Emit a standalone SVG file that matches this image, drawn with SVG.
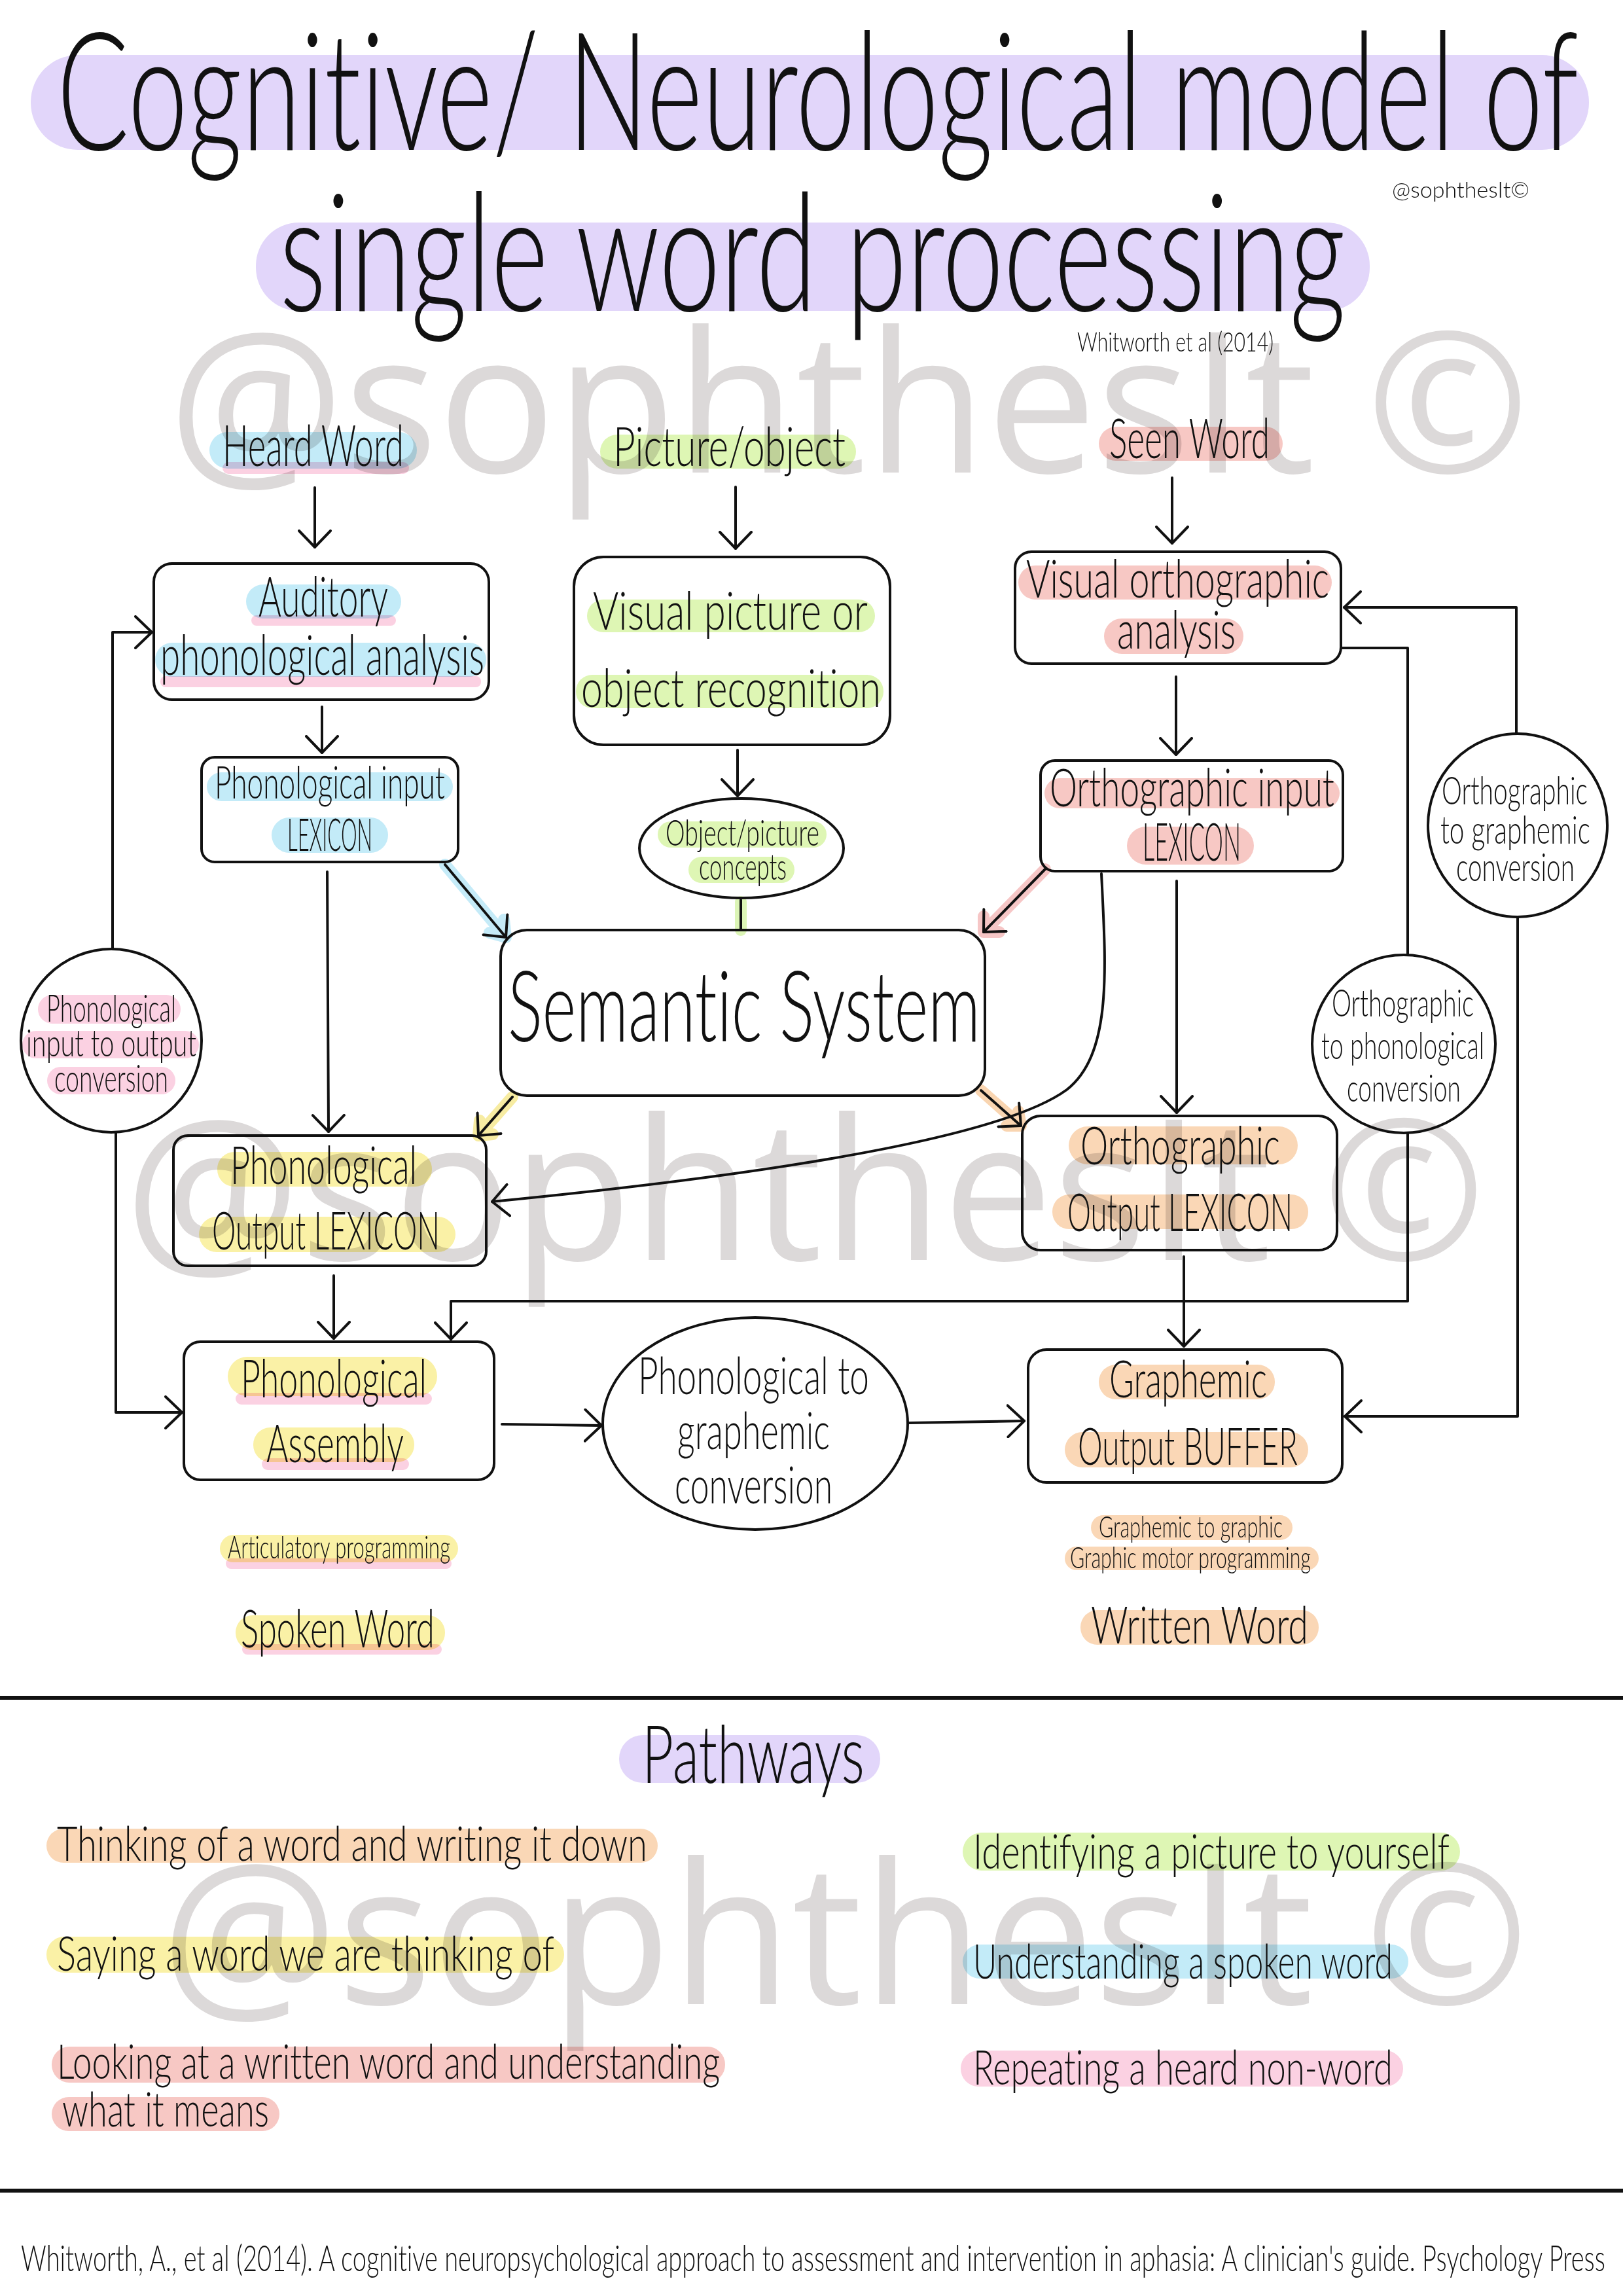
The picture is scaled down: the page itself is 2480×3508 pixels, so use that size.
<svg xmlns="http://www.w3.org/2000/svg" width="2480" height="3508" viewBox="0 0 2480 3508">
<defs>
<style>
.t{font-family:"Lato","Liberation Sans Narrow","DejaVu Sans Condensed",sans-serif;font-weight:300;fill:#111;font-variant-ligatures:none;font-feature-settings:"liga" 0,"clig" 0}
.wm{font-family:"Open Sans","Noto Sans","Liberation Sans",sans-serif;fill:#dcd9d9}
.box{fill:none;stroke:#111;stroke-width:4}
.ln{fill:none;stroke:#111;stroke-width:4;stroke-linecap:round;stroke-linejoin:round}
.glow{fill:none;stroke-width:18;stroke-linecap:round;stroke-linejoin:round;opacity:0.9}
.lav,.blu,.pnk,.grn,.yel,.pch,.sal{mix-blend-mode:multiply}
.lav{fill:#e2d6fa}.blu{fill:#c3ebf8}.pnk{fill:#fbd1e2}.grn{fill:#def6b4}.yel{fill:#faf1a6}.pch{fill:#fad7b6}.sal{fill:#f7c8c4}
</style>
<marker id="ah" viewBox="0 0 30 52" refX="27" refY="26" markerWidth="30" markerHeight="52" markerUnits="userSpaceOnUse" orient="auto">
<path d="M2,2 L27,26 L2,50" fill="none" stroke="#111" stroke-width="4" stroke-linecap="round" stroke-linejoin="round"/>
</marker>
</defs>
<rect x="0" y="0" width="2480" height="3508" fill="#ffffff"/>

<g id="watermarks">
<text class="wm" x="257" y="722" font-size="300" textLength="2080" lengthAdjust="spacingAndGlyphs">@sophthesIt ©</text>
<text class="wm" x="190" y="1925" font-size="300" textLength="2080" lengthAdjust="spacingAndGlyphs">@sophthesIt ©</text>
<text class="wm" x="246" y="3062" font-size="300" textLength="2090" lengthAdjust="spacingAndGlyphs">@sophthesIt ©</text>
</g>

<g id="title">
<rect class="lav" x="47" y="84" width="2381" height="145" rx="72"/>
<rect class="lav" x="391" y="340" width="1702" height="135" rx="66"/>
<text class="t" x="87" y="229" font-size="250" textLength="2325" lengthAdjust="spacingAndGlyphs">Cognitive/ Neurological model of</text>
<text class="t" x="427" y="475" font-size="250" textLength="1629" lengthAdjust="spacingAndGlyphs">single word processing</text>
<text class="t" x="2127" y="302" font-size="34" textLength="210" lengthAdjust="spacingAndGlyphs">@sophthesIt©</text>
<text class="t" x="1646" y="537" font-size="42" textLength="300" lengthAdjust="spacingAndGlyphs">Whitworth et al (2014)</text>
</g>

<g id="connectors">
<path class="glow" stroke="#bfe9f7" d="M680,1321 L773,1432 M748,1425 L773,1432 L770,1405"/>
<path class="glow" stroke="#d8f4ae" d="M1132,1378 L1132,1421"/>
<path class="glow" stroke="#f5c0c0" d="M1597,1328 L1503,1424 M1503,1400 L1503,1424 L1527,1424"/>
<path class="glow" stroke="#f6ea98" d="M783,1676 L731,1735 M733,1712 L731,1735 L753,1733"/>
<path class="glow" stroke="#f8d0a8" d="M1499,1666 L1560,1720 M1538,1720 L1560,1720 L1556,1698"/>

<path class="ln" marker-end="url(#ah)" d="M481,745 L481,836"/>
<path class="ln" marker-end="url(#ah)" d="M492,1080 L492,1150"/>
<path class="ln" marker-end="url(#ah)" d="M500,1332 L502,1729"/>
<path class="ln" marker-end="url(#ah)" d="M680,1321 L773,1432"/>
<path class="ln" marker-end="url(#ah)" d="M1124,744 L1124,838"/>
<path class="ln" marker-end="url(#ah)" d="M1127,1146 L1127,1216"/>
<path class="ln" d="M1132,1375 L1132,1421"/>
<path class="ln" marker-end="url(#ah)" d="M1791,730 L1791,830"/>
<path class="ln" marker-end="url(#ah)" d="M1797,1034 L1797,1153"/>
<path class="ln" marker-end="url(#ah)" d="M1597,1328 L1503,1424"/>
<path class="ln" marker-end="url(#ah)" d="M1798,1346 L1798,1700"/>
<path class="ln" marker-end="url(#ah)" d="M1683,1335 C1690,1480 1700,1610 1630,1665 C1520,1745 1120,1800 752,1836"/>
<path class="ln" marker-end="url(#ah)" d="M783,1676 L731,1735"/>
<path class="ln" marker-end="url(#ah)" d="M1499,1666 L1560,1720"/>
<path class="ln" marker-end="url(#ah)" d="M172,1450 L172,966 L232,966"/>
<path class="ln" marker-end="url(#ah)" d="M177,1730 L177,2158 L278,2158"/>
<path class="ln" marker-end="url(#ah)" d="M510,1949 L510,2045"/>
<path class="ln" d="M2049,990 L2151,990 L2151,1459"/>
<path class="ln" marker-end="url(#ah)" d="M2151,1731 L2151,1988 L689,1988 L689,2046"/>
<path class="ln" marker-end="url(#ah)" d="M2317,1121 L2317,928 L2054,928"/>
<path class="ln" marker-end="url(#ah)" d="M2319,1401 L2319,2164 L2055,2164"/>
<path class="ln" marker-end="url(#ah)" d="M767,2176 L919,2178"/>
<path class="ln" marker-end="url(#ah)" d="M1388,2174 L1565,2171"/>
<path class="ln" marker-end="url(#ah)" d="M1809,1920 L1809,2057"/>
</g>

<g id="heard-word">
<rect class="pnk" x="340" y="706" width="285" height="18" rx="9"/>
<rect class="blu" x="320" y="660" width="317" height="56" rx="28"/>
<text class="t" x="340" y="712" font-size="86" textLength="277" lengthAdjust="spacingAndGlyphs">Heard Word</text>
</g>

<g id="picture-object">
<rect class="grn" x="917" y="664" width="391" height="52" rx="26"/>
<text class="t" x="937" y="712" font-size="82" textLength="355" lengthAdjust="spacingAndGlyphs">Picture/object</text>
</g>

<g id="seen-word">
<rect class="sal" x="1679" y="652" width="281" height="52" rx="26"/>
<text class="t" x="1695" y="700" font-size="84" textLength="245" lengthAdjust="spacingAndGlyphs">Seen Word</text>
</g>

<g id="auditory-phonological-analysis">
<rect class="box" x="235" y="861" width="512" height="208" rx="28"/>
<rect class="pnk" x="384" y="940" width="221" height="16" rx="8"/>
<rect class="blu" x="376" y="893" width="237" height="52" rx="26"/>
<rect class="pnk" x="245" y="1033" width="490" height="17" rx="8"/>
<rect class="blu" x="237" y="982" width="506" height="52" rx="26"/>
<text class="t" x="395" y="942" font-size="85" textLength="198" lengthAdjust="spacingAndGlyphs">Auditory</text>
<text class="t" x="245" y="1031" font-size="85" textLength="495" lengthAdjust="spacingAndGlyphs">phonological analysis</text>
</g>

<g id="phonological-input-lexicon">
<rect class="box" x="308" y="1157" width="392" height="160" rx="20"/>
<rect class="blu" x="316" y="1180" width="376" height="44" rx="22"/>
<rect class="blu" x="415" y="1249" width="178" height="54" rx="27"/>
<text class="t" x="328" y="1220" font-size="68" textLength="352" lengthAdjust="spacingAndGlyphs">Phonological input</text>
<text class="t" x="439" y="1300" font-size="68" textLength="130" lengthAdjust="spacingAndGlyphs">LEXICON</text>
</g>

<g id="visual-picture-object-recognition">
<rect class="box" x="877" y="851" width="483" height="287" rx="45"/>
<rect class="grn" x="897" y="916" width="440" height="50" rx="25"/>
<rect class="grn" x="880" y="1031" width="470" height="51" rx="25"/>
<text class="t" x="906" y="962" font-size="80" textLength="420" lengthAdjust="spacingAndGlyphs">Visual picture or</text>
<text class="t" x="888" y="1080" font-size="80" textLength="458" lengthAdjust="spacingAndGlyphs">object recognition</text>
</g>

<g id="object-picture-concepts">
<ellipse class="box" cx="1133" cy="1296" rx="156" ry="76"/>
<rect class="grn" x="1005" y="1255" width="258" height="40" rx="20"/>
<rect class="grn" x="1052" y="1309" width="162" height="40" rx="20"/>
<text class="t" x="1017" y="1292" font-size="56" textLength="235" lengthAdjust="spacingAndGlyphs">Object/picture</text>
<text class="t" x="1068" y="1344" font-size="56" textLength="134" lengthAdjust="spacingAndGlyphs">concepts</text>
</g>

<g id="visual-orthographic-analysis">
<rect class="box" x="1551" y="843" width="498" height="171" rx="25"/>
<rect class="sal" x="1556" y="864" width="479" height="52" rx="26"/>
<rect class="sal" x="1687" y="945" width="213" height="54" rx="27"/>
<text class="t" x="1568" y="913" font-size="80" textLength="463" lengthAdjust="spacingAndGlyphs">Visual orthographic</text>
<text class="t" x="1707" y="991" font-size="80" textLength="181" lengthAdjust="spacingAndGlyphs">analysis</text>
</g>

<g id="orthographic-input-lexicon">
<rect class="box" x="1590" y="1162" width="462" height="169" rx="22"/>
<rect class="sal" x="1596" y="1189" width="451" height="46" rx="23"/>
<rect class="sal" x="1722" y="1263" width="194" height="58" rx="29"/>
<text class="t" x="1604" y="1232" font-size="80" textLength="435" lengthAdjust="spacingAndGlyphs">Orthographic input</text>
<text class="t" x="1746" y="1315" font-size="80" textLength="150" lengthAdjust="spacingAndGlyphs">LEXICON</text>
</g>

<g id="semantic-system">
<rect class="box" x="765" y="1421" width="740" height="253" rx="40" fill="#fff"/>
<text class="t" x="776" y="1591" font-size="150" textLength="722" lengthAdjust="spacingAndGlyphs">Semantic System</text>
</g>

<g id="phonological-input-to-output-conversion">
<ellipse class="box" cx="170" cy="1590" rx="138" ry="140"/>
<rect class="pnk" x="58" y="1520" width="218" height="44" rx="22"/>
<rect class="pnk" x="34" y="1575" width="270" height="42" rx="21"/>
<rect class="pnk" x="72" y="1630" width="196" height="42" rx="21"/>
<text class="t" x="71" y="1561" font-size="58" textLength="198" lengthAdjust="spacingAndGlyphs">Phonological</text>
<text class="t" x="40" y="1614" font-size="58" textLength="260" lengthAdjust="spacingAndGlyphs">input to output</text>
<text class="t" x="83" y="1668" font-size="58" textLength="174" lengthAdjust="spacingAndGlyphs">conversion</text>
</g>

<g id="orthographic-to-phonological-conversion">
<ellipse class="box" cx="2145" cy="1595" rx="140" ry="136"/>
<text class="t" x="2035" y="1553" font-size="58" textLength="217" lengthAdjust="spacingAndGlyphs">Orthographic</text>
<text class="t" x="2019" y="1618" font-size="58" textLength="249" lengthAdjust="spacingAndGlyphs">to phonological</text>
<text class="t" x="2058" y="1683" font-size="58" textLength="174" lengthAdjust="spacingAndGlyphs">conversion</text>
</g>

<g id="orthographic-to-graphemic-conversion">
<ellipse class="box" cx="2319" cy="1261" rx="137" ry="140"/>
<text class="t" x="2203" y="1229" font-size="60" textLength="223" lengthAdjust="spacingAndGlyphs">Orthographic</text>
<text class="t" x="2201" y="1289" font-size="60" textLength="229" lengthAdjust="spacingAndGlyphs">to graphemic</text>
<text class="t" x="2225" y="1346" font-size="60" textLength="181" lengthAdjust="spacingAndGlyphs">conversion</text>
</g>

<g id="phonological-output-lexicon">
<rect class="box" x="265" y="1735" width="478" height="199" rx="22"/>
<rect class="yel" x="332" y="1760" width="328" height="53" rx="26"/>
<rect class="yel" x="304" y="1859" width="392" height="54" rx="27"/>
<text class="t" x="352" y="1809" font-size="80" textLength="285" lengthAdjust="spacingAndGlyphs">Phonological</text>
<text class="t" x="324" y="1909" font-size="80" textLength="348" lengthAdjust="spacingAndGlyphs">Output LEXICON</text>
</g>

<g id="orthographic-output-lexicon">
<rect class="box" x="1562" y="1705" width="481" height="205" rx="28"/>
<rect class="pch" x="1633" y="1721" width="350" height="58" rx="29"/>
<rect class="pch" x="1608" y="1825" width="391" height="53" rx="26"/>
<text class="t" x="1651" y="1779" font-size="80" textLength="305" lengthAdjust="spacingAndGlyphs">Orthographic</text>
<text class="t" x="1631" y="1881" font-size="80" textLength="344" lengthAdjust="spacingAndGlyphs">Output LEXICON</text>
</g>

<g id="phonological-assembly">
<rect class="box" x="281" y="2050" width="474" height="211" rx="25"/>
<rect class="pnk" x="360" y="2128" width="300" height="18" rx="9"/>
<rect class="yel" x="348" y="2073" width="320" height="60" rx="30"/>
<rect class="pnk" x="400" y="2228" width="225" height="18" rx="9"/>
<rect class="yel" x="387" y="2181" width="246" height="53" rx="26"/>
<text class="t" x="368" y="2135" font-size="80" textLength="284" lengthAdjust="spacingAndGlyphs">Phonological</text>
<text class="t" x="407" y="2234" font-size="80" textLength="210" lengthAdjust="spacingAndGlyphs">Assembly</text>
</g>

<g id="phonological-to-graphemic-conversion">
<ellipse class="box" cx="1154" cy="2175" rx="233" ry="162"/>
<text class="t" x="975" y="2130" font-size="78" textLength="353" lengthAdjust="spacingAndGlyphs">Phonological to</text>
<text class="t" x="1035" y="2214" font-size="78" textLength="233" lengthAdjust="spacingAndGlyphs">graphemic</text>
<text class="t" x="1031" y="2297" font-size="78" textLength="241" lengthAdjust="spacingAndGlyphs">conversion</text>
</g>

<g id="graphemic-output-buffer">
<rect class="box" x="1571" y="2062" width="480" height="203" rx="28"/>
<rect class="pch" x="1679" y="2085" width="269" height="53" rx="26"/>
<rect class="pch" x="1627" y="2188" width="372" height="54" rx="27"/>
<text class="t" x="1695" y="2135" font-size="78" textLength="241" lengthAdjust="spacingAndGlyphs">Graphemic</text>
<text class="t" x="1647" y="2238" font-size="78" textLength="336" lengthAdjust="spacingAndGlyphs">Output BUFFER</text>
</g>

<g id="graphic-programming">
<rect class="pch" x="1667" y="2315" width="308" height="38" rx="19"/>
<rect class="pch" x="1627" y="2363" width="388" height="36" rx="18"/>
<text class="t" x="1679" y="2349" font-size="45" textLength="281" lengthAdjust="spacingAndGlyphs">Graphemic to graphic</text>
<text class="t" x="1635" y="2396" font-size="45" textLength="368" lengthAdjust="spacingAndGlyphs">Graphic motor programming</text>
</g>

<g id="written-word">
<rect class="pch" x="1651" y="2460" width="364" height="53" rx="26"/>
<text class="t" x="1667" y="2511" font-size="78" textLength="332" lengthAdjust="spacingAndGlyphs">Written Word</text>
</g>

<g id="articulatory-programming">
<rect class="pnk" x="345" y="2381" width="345" height="16" rx="8"/>
<rect class="yel" x="336" y="2345" width="364" height="42" rx="21"/>
<text class="t" x="348" y="2381" font-size="47" textLength="340" lengthAdjust="spacingAndGlyphs">Articulatory programming</text>
</g>

<g id="spoken-word">
<rect class="pnk" x="370" y="2512" width="305" height="16" rx="8"/>
<rect class="yel" x="360" y="2468" width="320" height="53" rx="26"/>
<text class="t" x="368" y="2517" font-size="80" textLength="296" lengthAdjust="spacingAndGlyphs">Spoken Word</text>
</g>

<g id="rules">
<line x1="0" y1="2594" x2="2480" y2="2594" stroke="#111" stroke-width="6"/>
<line x1="0" y1="3347" x2="2480" y2="3347" stroke="#111" stroke-width="6"/>
</g>

<g id="pathways">
<rect class="lav" x="946" y="2651" width="399" height="73" rx="36"/>
<text class="t" x="981" y="2724" font-size="122" textLength="340" lengthAdjust="spacingAndGlyphs">Pathways</text>
<rect class="pch" x="71" y="2794" width="934" height="52" rx="26"/>
<text class="t" x="87" y="2843" font-size="72" textLength="902" lengthAdjust="spacingAndGlyphs">Thinking of a word and writing it down</text>
<rect class="yel" x="71" y="2959" width="791" height="55" rx="27"/>
<text class="t" x="87" y="3011" font-size="72" textLength="760" lengthAdjust="spacingAndGlyphs">Saying a word we are thinking of</text>
<rect class="sal" x="79" y="3127" width="1029" height="55" rx="27"/>
<text class="t" x="87" y="3176" font-size="72" textLength="1013" lengthAdjust="spacingAndGlyphs">Looking at a written word and understanding</text>
<rect class="sal" x="79" y="3204" width="348" height="52" rx="26"/>
<text class="t" x="95" y="3249" font-size="72" textLength="316" lengthAdjust="spacingAndGlyphs">what it means</text>
<rect class="grn" x="1471" y="2800" width="760" height="58" rx="29"/>
<text class="t" x="1487" y="2855" font-size="72" textLength="728" lengthAdjust="spacingAndGlyphs">Identifying a picture to yourself</text>
<rect class="blu" x="1471" y="2971" width="681" height="52" rx="26"/>
<text class="t" x="1487" y="3023" font-size="72" textLength="641" lengthAdjust="spacingAndGlyphs">Understanding a spoken word</text>
<rect class="pnk" x="1468" y="3133" width="676" height="55" rx="27"/>
<text class="t" x="1487" y="3185" font-size="72" textLength="641" lengthAdjust="spacingAndGlyphs">Repeating a heard non-word</text>
</g>

<g id="citation">
<text class="t" x="32" y="3470" font-size="56" textLength="2421" lengthAdjust="spacingAndGlyphs">Whitworth, A., et al (2014). A cognitive neuropsychological approach to assessment and intervention in aphasia: A clinician's guide. Psychology Press</text>
</g>
</svg>
